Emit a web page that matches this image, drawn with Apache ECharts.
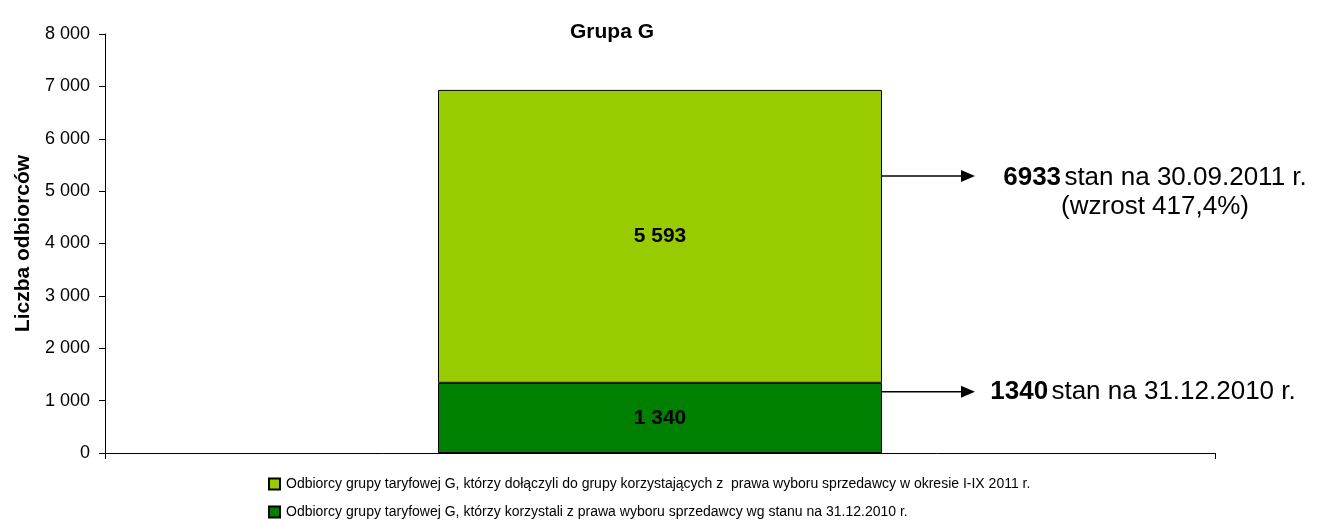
<!DOCTYPE html>
<html>

<head>
    <meta charset="utf-8" />
    <script src="https://cdn.jsdelivr.net/npm/echarts@6/dist/echarts.min.js"></script>
</head>

<body style="margin:0">
    <div id="main" style="width: 1321px; height:520px;"></div>
    <script type="text/javascript">
        // dane
        var categories = ['Grupa G'];
        var stan2010 = [1340];
        var przyrost2011 = [5593];
        var yTicks = { min: 0, max: 8000, interval: 1000 };
        var seriesNames = [
            'Odbiorcy grupy taryfowej G, którzy korzystali z prawa wyboru sprzedawcy wg stanu na 31.12.2010 r.',
            'Odbiorcy grupy taryfowej G, którzy dołączyli do grupy korzystających z  prawa wyboru sprzedawcy w okresie I-IX 2011 r.'
        ];
        // poziomy strzałek (w jednostkach osi Y)
        var arrowLevels = [5290, 1170];

        var font = 'Arial, "Liberation Sans", sans-serif';

        function fmt(v) {
            return String(v).replace(/\B(?=(\d{3})+(?!\d))/g, ' ');
        }

        var myChart = echarts.init(document.getElementById('main'));

        var legendBase = {
            orient: 'horizontal',
            left: 268,
            itemWidth: 11,
            itemHeight: 11,
            icon: 'rect',
            padding: 0,
            textStyle: { fontSize: 14, color: '#000', padding: [0, 0, 0, 1] }
        };

        var option = {
            animation: false,
            textStyle: { fontFamily: font },
            title: {
                text: 'Grupa G',
                left: 607,
                top: 17,
                textAlign: 'center',
                textStyle: { fontSize: 21, fontWeight: 'bold', color: '#000' }
            },
            legend: [
                Object.assign({}, legendBase, { top: 477, data: [seriesNames[1]] }),
                Object.assign({}, legendBase, { top: 505, data: [seriesNames[0]] })
            ],
            grid: {
                left: 105,
                right: 106,
                top: 34,
                bottom: 67
            },
            xAxis: {
                type: 'category',
                data: categories,
                axisLine: { lineStyle: { color: '#000' } },
                axisTick: { show: true, length: 6, lineStyle: { color: '#000' } },
                axisLabel: { show: false }
            },
            yAxis: {
                type: 'value',
                min: yTicks.min,
                max: yTicks.max,
                interval: yTicks.interval,
                name: 'Liczba odbiorców',
                nameLocation: 'middle',
                nameGap: 71,
                nameTextStyle: { fontSize: 21, fontWeight: 'bold', color: '#000' },
                axisLine: { show: true, lineStyle: { color: '#000' } },
                axisTick: { show: true, length: 6, lineStyle: { color: '#000' } },
                axisLabel: {
                    fontSize: 18, color: '#000', margin: 15,
                    formatter: function (v) { return fmt(v); }
                },
                splitLine: { show: false }
            },
            series: [
                {
                    name: seriesNames[0],
                    type: 'bar',
                    stack: 'g',
                    barWidth: '40%',
                    data: stan2010,
                    itemStyle: { color: '#008000', borderColor: '#000', borderWidth: 1 },
                    label: {
                        show: true, position: 'inside', fontSize: 21, fontWeight: 'bold', color: '#000',
                        formatter: function (p) { return fmt(p.value); }
                    }
                },
                {
                    name: seriesNames[1],
                    type: 'bar',
                    stack: 'g',
                    barWidth: '40%',
                    data: przyrost2011,
                    itemStyle: { color: '#99CC00', borderColor: '#000', borderWidth: 1 },
                    label: {
                        show: true, position: 'inside', fontSize: 21, fontWeight: 'bold', color: '#000',
                        formatter: function (p) { return fmt(p.value); }
                    }
                }
            ]
        };

        myChart.setOption(option);

        // strzałki i opisy po prawej stronie słupka
        var total = stan2010[0] + przyrost2011[0];
        var y1 = myChart.convertToPixel({ yAxisIndex: 0 }, arrowLevels[0]);
        var y2 = myChart.convertToPixel({ yAxisIndex: 0 }, arrowLevels[1]);
        var x0 = 878, x1 = 975;
        var rich = {
            b: { fontSize: 26, fontWeight: 'bold', fontFamily: font, fill: '#000' },
            n: { fontSize: 26, fontFamily: font, fill: '#000' }
        };
        function arrow(y) {
            return [
                { type: 'line', shape: { x1: x0, y1: y, x2: x1 - 12, y2: y }, style: { stroke: '#000', lineWidth: 1.5 } },
                { type: 'polygon', shape: { points: [[x1 - 14, y - 6], [x1, y], [x1 - 14, y + 6]] }, style: { fill: '#000' } }
            ];
        }
        myChart.setOption({
            graphic: arrow(y1).concat(arrow(y2)).concat([
                {
                    type: 'text', x: 1155, y: y1 + 2,
                    style: {
                        text: '{b|' + total + '} {n|stan na 30.09.2011 r.}',
                        rich: rich, align: 'center', verticalAlign: 'middle'
                    }
                },
                {
                    type: 'text', x: 1155, y: y1 + 31,
                    style: {
                        text: '(wzrost 417,4%)', fontSize: 26, fontFamily: font, fill: '#000',
                        align: 'center', verticalAlign: 'middle'
                    }
                },
                {
                    type: 'text', x: 1143, y: y2,
                    style: {
                        text: '{b|' + stan2010[0] + '} {n|stan na 31.12.2010 r.}',
                        rich: rich, align: 'center', verticalAlign: 'middle'
                    }
                }
            ])
        });
    </script>
</body>

</html>
